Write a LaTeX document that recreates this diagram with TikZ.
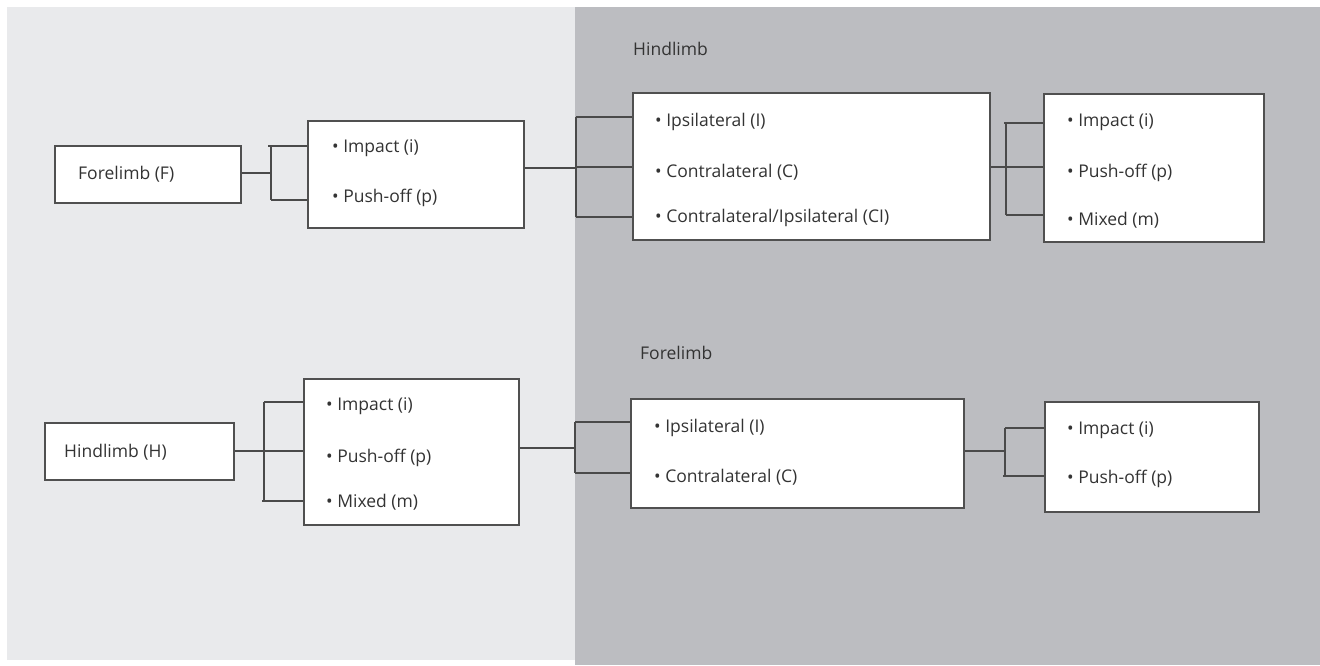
\documentclass[tikz,border=0pt]{standalone}
\usepackage{fontspec}
\setmainfont{Open Sans}
\definecolor{lightbg}{HTML}{E9EAEC}
\definecolor{darkbg}{HTML}{BCBDC1}
\definecolor{boxc}{HTML}{505050}
\definecolor{linec}{HTML}{4A4A4A}
\definecolor{txt}{HTML}{333333}
\begin{document}
\begin{tikzpicture}[x=1pt,y=-1pt,
  box/.style={draw=boxc, line width=1.5pt, fill=white, inner sep=0pt, anchor=center},
  item/.style={anchor=west, inner sep=0pt, font=\fontsize{17.5}{20}\selectfont, text=txt},
  conn/.style={draw=linec, line width=2pt}]
% backgrounds
\useasboundingbox (0,0) rectangle (1320,665);
\fill[white] (0,0) rectangle (1320,665);
\fill[lightbg] (7,7) rectangle (575,660);
\fill[darkbg] (575,7) rectangle (1320,665);

% section labels
\node[item] (lblH) at (633,49) {Hindlimb};
\node[item] (lblF) at (640,353) {Forelimb};

% ---------- top row ----------
\node[box, minimum width=186pt, minimum height=57pt] (F) at (148,174.5) {};
\node[item] (Ft) at (78,174) {Forelimb (F)};

\node[box, minimum width=216pt, minimum height=107pt] (Fi) at (416,174.5) {};
\node[item] (Fi1) at (332,148) {• Impact (i)};
\node[item] (Fi2) at (332,198) {• Push-off (p)};

\node[box, minimum width=357pt, minimum height=147pt] (HL) at (811.5,166.5) {};
\node[item] (HL1) at (655,122) {• Ipsilateral (I)};
\node[item] (HL2) at (655,172) {• Contralateral (C)};
\node[item] (HL3) at (655,218) {• Contralateral/Ipsilateral (CI)};

\node[box, minimum width=220pt, minimum height=148pt] (HLr) at (1154,168) {};
\node[item] (HLr1) at (1067,122) {• Impact (i)};
\node[item] (HLr2) at (1067,173) {• Push-off (p)};
\node[item] (HLr3) at (1067,220) {• Mixed (m)};

% ---------- bottom row ----------
\node[box, minimum width=189pt, minimum height=57pt] (H) at (139.5,451.5) {};
\node[item] (Ht) at (64,452) {Hindlimb (H)};

\node[box, minimum width=215pt, minimum height=146pt] (Hi) at (411.5,452) {};
\node[item] (Hi1) at (326,406) {• Impact (i)};
\node[item] (Hi2) at (326,458) {• Push-off (p)};
\node[item] (Hi3) at (326,502) {• Mixed (m)};

\node[box, minimum width=333pt, minimum height=109pt] (FL) at (797.5,453.5) {};
\node[item] (FL1) at (654,428) {• Ipsilateral (I)};
\node[item] (FL2) at (654,477) {• Contralateral (C)};

\node[box, minimum width=214pt, minimum height=110pt] (FLr) at (1152,457) {};
\node[item] (FLr1) at (1067,430) {• Impact (i)};
\node[item] (FLr2) at (1067,479) {• Push-off (p)};

% ---------- connectors ----------
% F -> Fi
\coordinate (a0) at (271,173);
\coordinate (a1) at (268,146);
\coordinate (a2) at (271,200);
\draw[conn] (F.east |- a0) -- (a0);
\draw[conn] (271,146) -- (a2);
\draw[conn] (a1) -- (a1 -| Fi.west);
\draw[conn] (a2) -- (a2 -| Fi.west);

% Fi -> HL
\coordinate (b0) at (576,168);
\coordinate (b1) at (576,117);
\coordinate (b2) at (576,167);
\coordinate (b3) at (576,217);
\draw[conn] (Fi.east |- b0) -- (b0);
\draw[conn] (b1) -- (b3);
\draw[conn] (b1) -- (b1 -| HL.west);
\draw[conn] (b2) -- (b2 -| HL.west);
\draw[conn] (b3) -- (b3 -| HL.west);

% HL -> HLr
\coordinate (c0) at (1006,167);
\coordinate (c1) at (1004,123);
\coordinate (c3) at (1006,215);
\draw[conn] (HL.east |- c0) -- (c0 -| HLr.west);
\draw[conn] (1006,123) -- (c3);
\draw[conn] (c1) -- (c1 -| HLr.west);
\draw[conn] (c3) -- (c3 -| HLr.west);

% H -> Hi
\coordinate (d0) at (264,451);
\coordinate (d1) at (264,402);
\coordinate (d3) at (262,501);
\draw[conn] (H.east |- d0) -- (d0 -| Hi.west);
\draw[conn] (d1) -- (264,501);
\draw[conn] (d1) -- (d1 -| Hi.west);
\draw[conn] (d3) -- (d3 -| Hi.west);

% Hi -> FL
\coordinate (e0) at (575,448);
\coordinate (e1) at (575,422);
\coordinate (e3) at (575,473);
\draw[conn] (Hi.east |- e0) -- (e0);
\draw[conn] (e1) -- (e3);
\draw[conn] (e1) -- (e1 -| FL.west);
\draw[conn] (e3) -- (e3 -| FL.west);

% FL -> FLr
\coordinate (f0) at (1005,451);
\coordinate (f1) at (1005,428);
\coordinate (f3) at (1003,476);
\draw[conn] (FL.east |- f0) -- (f0);
\draw[conn] (f1) -- (1005,476);
\draw[conn] (f1) -- (f1 -| FLr.west);
\draw[conn] (f3) -- (f3 -| FLr.west);
\end{tikzpicture}
\end{document}
